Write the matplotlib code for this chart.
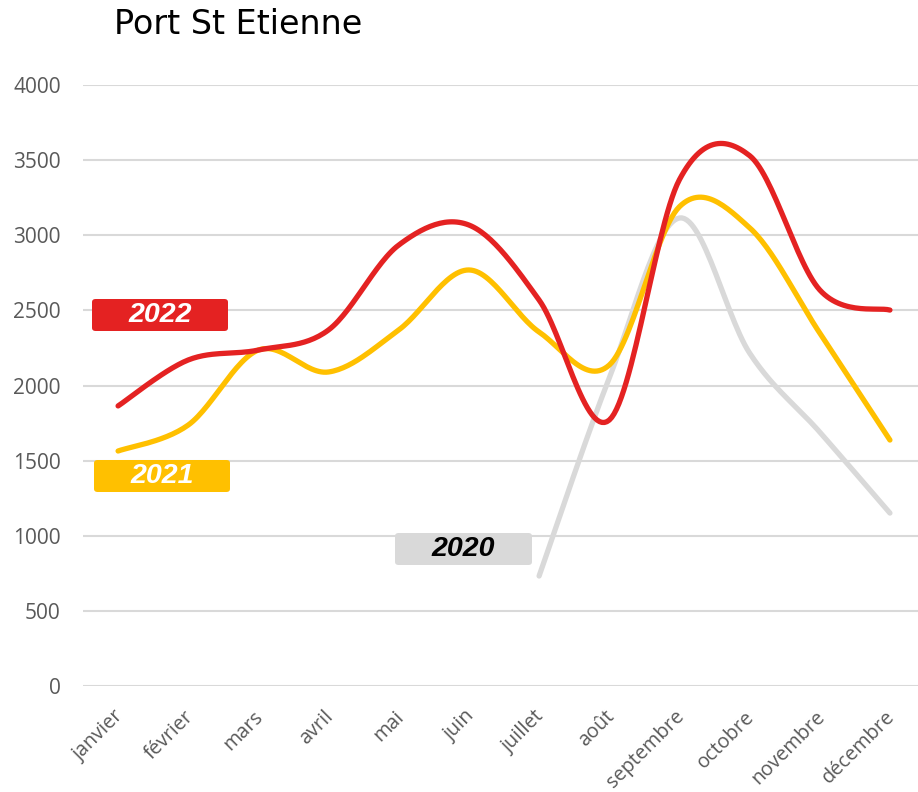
import numpy as np
import matplotlib
matplotlib.use("Agg")
import matplotlib.pyplot as plt
from matplotlib.patches import FancyBboxPatch
from matplotlib.transforms import ScaledTranslation

months = ["janvier", "février", "mars", "avril", "mai", "juin", "juillet",
          "août", "septembre", "octobre", "novembre", "décembre"]
s2022 = [1864, 2170, 2236, 2370, 2935, 3068, 2569, 1770, 3370, 3530, 2636, 2502]
s2021 = [1564, 1737, 2236, 2090, 2370, 2769, 2356, 2136, 3190, 3050, 2349, 1637]
s2020 = [None, None, None, None, None, None, 732, 2050, 3115, 2216, 1690, 1151]
yticks = [0, 500, 1000, 1500, 2000, 2500, 3000, 3500, 4000]

C22 = "#E42222"
C21 = "#FFC000"
C20 = "#D9D9D9"

W, H = 918, 792
fig = plt.figure(figsize=(W / 100, H / 100), dpi=100)
ax = fig.add_axes([83 / W, 1 - 686 / H, (918 - 83) / W, (686 - 85) / H])


def smooth(xs, ys, n=30):
    xs = np.asarray(xs, float)
    ys = np.asarray(ys, float)
    px = np.concatenate([[xs[0]], xs, [xs[-1]]])
    py = np.concatenate([[ys[0]], ys, [ys[-1]]])
    ox, oy = [], []
    for i in range(1, len(px) - 2):
        p0 = np.array([px[i], py[i]])
        p3 = np.array([px[i + 1], py[i + 1]])
        c1 = p0 + (np.array([px[i + 1], py[i + 1]]) - np.array([px[i - 1], py[i - 1]])) / 6
        c2 = p3 - (np.array([px[i + 2], py[i + 2]]) - np.array([px[i], py[i]])) / 6
        t = np.linspace(0, 1, n)[:, None]
        b = ((1 - t) ** 3) * p0 + 3 * ((1 - t) ** 2) * t * c1 + 3 * (1 - t) * t ** 2 * c2 + t ** 3 * p3
        ox.extend(b[:, 0]); oy.extend(b[:, 1])
    return np.array(ox), np.array(oy)


for series, col, z in [(s2020, C20, 2), (s2021, C21, 3), (s2022, C22, 4)]:
    idx = [i for i, v in enumerate(series) if v is not None]
    vals = [series[i] for i in idx]
    sx, sy = smooth(idx, vals)
    ax.plot(sx, sy, color=col, lw=3.8, solid_capstyle="round", zorder=z)

ax.set_xlim(-0.5, 11.4)
ax.set_ylim(0, 4000)
ax.set_yticks(yticks)
ax.set_xticks(range(len(months)))
ax.set_xticklabels(months, rotation=45, ha="right", rotation_mode="anchor",
                   fontsize=14.3, color="#595959", family="Open Sans")
ax.set_yticklabels([str(v) for v in yticks], fontsize=15, color="#595959", family="Open Sans")
ax.tick_params(axis="y", length=0, pad=16)
ax.tick_params(axis="x", length=0, pad=15)
off = ScaledTranslation(-5 / 100, 0, fig.dpi_scale_trans)
for lab in ax.get_xticklabels():
    lab.set_transform(lab.get_transform() + off)
ax.grid(axis="y", color="#D9D9D9", lw=1.5, zorder=0)
ax.set_axisbelow(True)
for sp in ax.spines.values():
    sp.set_visible(False)

fig.text(114 / W, 1 - 25 / H, "Port St Etienne", fontsize=24, family="DejaVu Sans",
         color="black", va="center", ha="left")


def label(x0, y0, x1, y1, text, fc, tc):
    bx = FancyBboxPatch((x0 / W, 1 - y1 / H), (x1 - x0) / W, (y1 - y0) / H,
                        boxstyle="round,pad=0,rounding_size=0.004",
                        transform=fig.transFigure, fc=fc, ec="none", zorder=5)
    fig.patches.append(bx)
    fig.text((x0 + x1) / 2 / W, 1 - (y0 + y1) / 2 / H, text, ha="center", va="center",
             fontsize=20.5, fontweight="bold", fontstyle="italic", family="Liberation Sans",
             color=tc, zorder=6)


label(92, 299, 228, 331, "2022", C22, "white")
label(94, 460, 230, 492, "2021", C21, "white")
label(395, 533, 532, 565, "2020", C20, "black")

fig.savefig("out.png", dpi=100, facecolor="white")
